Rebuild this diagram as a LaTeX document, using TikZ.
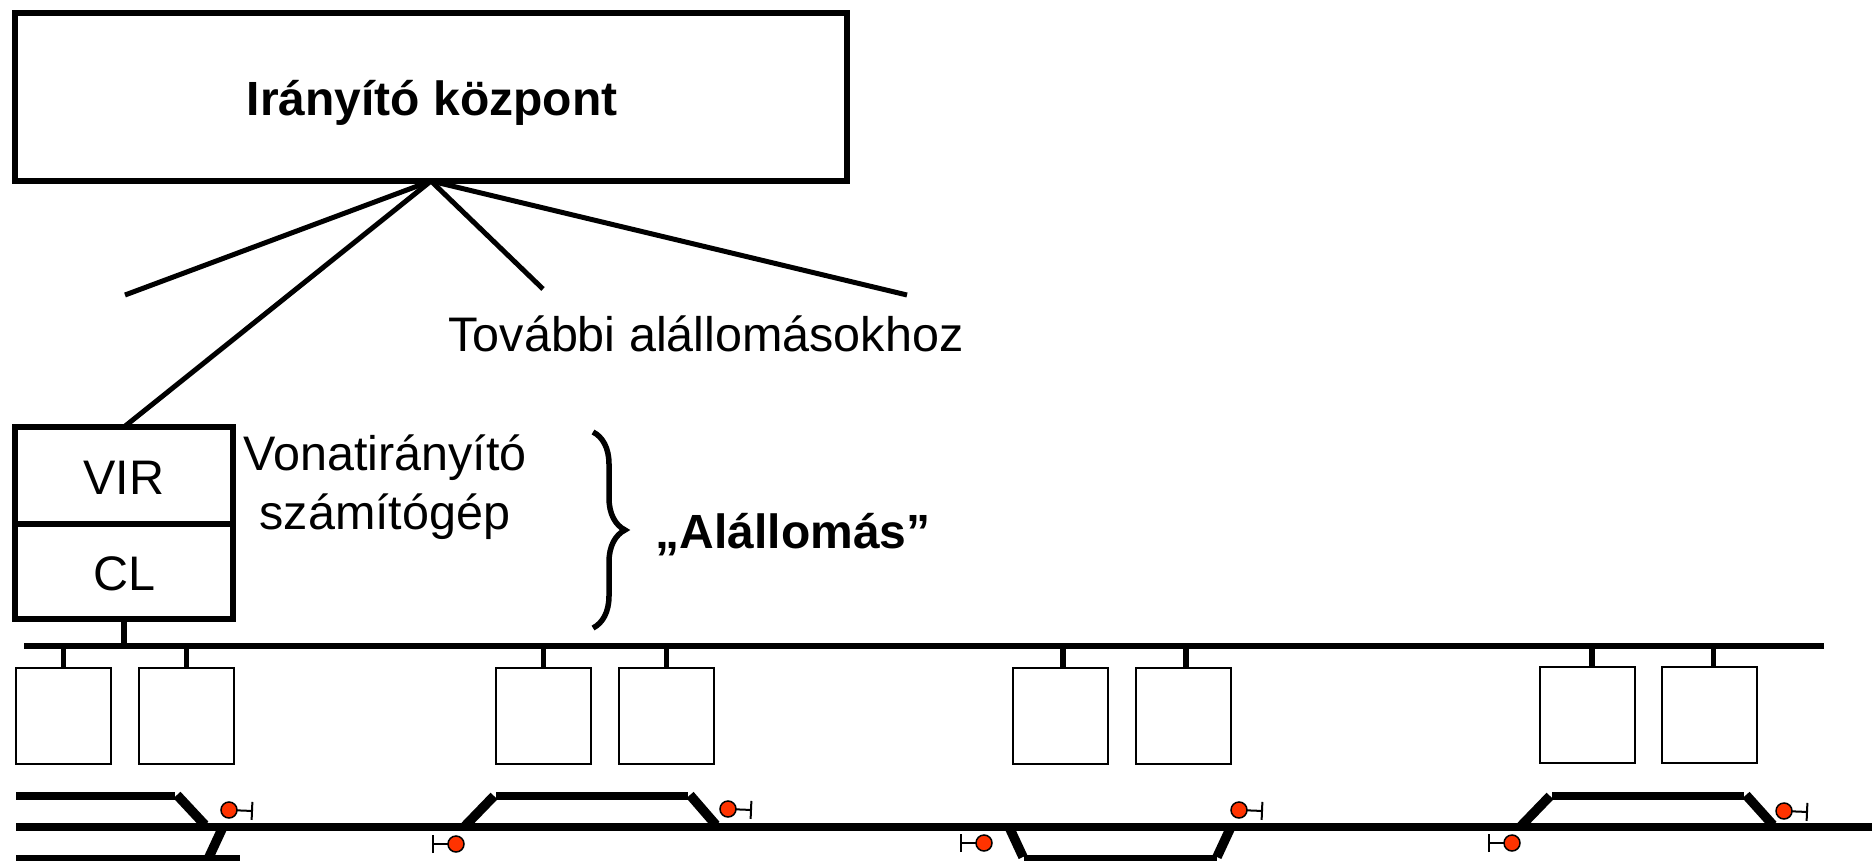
\documentclass[tikz,border=0pt]{standalone}
\usepackage{fontspec}
\setmainfont{Liberation Sans}
\usetikzlibrary{arrows.meta,decorations.pathreplacing}

\definecolor{signalred}{HTML}{FF3300}

\tikzset{
	bigtext/.style={font=\fontsize{48.5}{59}\selectfont, align=center, inner sep=0pt},
	boldtext/.style={font=\fontsize{48}{59}\selectfont\bfseries, inner sep=0pt},
	mainbox/.style={draw, line width=5.5pt, inner sep=0pt, outer sep=0pt},
	fieldbox/.style={draw, line width=2pt, minimum width=95pt, minimum height=96pt, inner sep=0pt, outer sep=0pt},
	wire/.style={line width=5pt},
	stem/.style={line width=5.5pt},
	track/.style={line width=8pt},
	switch/.style={line width=9.5pt},
	signal/.style={circle, draw, line width=1.5pt, fill=signalred, minimum size=16pt, inner sep=0pt, outer sep=0pt},
	signalpost/.style={line width=2pt, -{Bar[width=18pt,line width=2pt]}}
}

\begin{document}
\begin{tikzpicture}[x=1pt, y=-1pt]
	\clip (0, 0) rectangle (1872, 860);

	\node [mainbox, minimum width=832pt, minimum height=168pt] (center) at (431, 97) {};
	\node [boldtext] (centertext) at (432, 103) {Irányító központ};

	\coordinate (enda) at (125, 295);
	\coordinate (endb) at (543, 289);
	\coordinate (endc) at (907, 295);
	\node [bigtext] (further) at (706, 334) {További alállomásokhoz};

	\node [mainbox, minimum width=218pt, minimum height=97pt, bigtext] (vir) at (124, 475.5) {};
	\node [mainbox, minimum width=218pt, minimum height=95pt, bigtext] (cl) at (124, 571.5) {};
	\node [bigtext] (virtext) at (124, 478) {VIR};
	\node [bigtext] (cltext) at (124, 574) {CL};
	\node [bigtext] (computer) at (385, 487) {Vonatirányító\\számítógép};

	\draw [wire] (center.south) -- (enda);
	\draw [wire] (center.south) -- (vir.north);
	\draw [wire] (center.south) -- (endb);
	\draw [wire] (center.south) -- (endc);

	\draw [line width=5.5pt, decorate, decoration={brace, amplitude=32pt}] (593, 432) -- (593, 628);
	\node [boldtext] (station) at (793, 535) {„Alállomás”};

	\coordinate (busleft) at (24, 646);
	\coordinate (busright) at (1824, 646);
	\draw [stem] (busleft) -- (busright);
	\draw [stem] (cl.south) -- (cl.south |- busleft);

	\node [fieldbox] (fa) at (63.5, 716) {};
	\node [fieldbox] (fb) at (186.5, 715.5) {};
	\node [fieldbox] (fc) at (543.5, 715.5) {};
	\node [fieldbox] (fd) at (666.5, 715.5) {};
	\node [fieldbox] (fe) at (1060.5, 715.5) {};
	\node [fieldbox] (ff) at (1183, 715.5) {};
	\node [fieldbox] (fg) at (1587, 715) {};
	\node [fieldbox] (fh) at (1709.5, 715) {};

	\draw [stem] (fa.north) -- (fa.north |- busleft);
	\draw [stem] (fb.north) -- (fb.north |- busleft);
	\draw [stem] (fc.north) -- (fc.north |- busleft);
	\draw [stem] (fd.north) -- (fd.north |- busleft);
	\draw [stem] ([xshift=2.5pt]fe.north) -- ([xshift=2.5pt]fe.north |- busleft);
	\draw [stem] ([xshift=3pt]ff.north) -- ([xshift=3pt]ff.north |- busleft);
	\draw [stem] ([xshift=5pt]fg.north) -- ([xshift=5pt]fg.north |- busleft);
	\draw [stem] ([xshift=4pt]fh.north) -- ([xshift=4pt]fh.north |- busleft);

	\draw [track] (16, 827) -- (1872, 827);

	\draw [track] (16, 796) -- (175, 796);
	\draw [switch] (177, 795) -- (205, 825);
	\draw [track] (16, 859) -- (240, 859);
	\draw [switch] (222, 829) -- (209, 857);

	\draw [switch] (465, 826) -- (494, 796);
	\draw [track] (496, 796) -- (688, 796);
	\draw [switch] (690, 795) -- (716, 825);

	\draw [switch] (1010, 829) -- (1023, 857);
	\draw [track] (1024, 859) -- (1217, 859);
	\draw [switch] (1217, 857) -- (1230, 829);

	\draw [switch] (1521, 826) -- (1550, 796);
	\draw [track] (1552, 796) -- (1744, 796);
	\draw [switch] (1746, 795) -- (1773, 825);

	\node [signal] (sa) at (229, 810) {};
	\node [signal] (sb) at (456, 844) {};
	\node [signal] (sc) at (728, 809) {};
	\node [signal] (sd) at (984, 843) {};
	\node [signal] (se) at (1239, 810) {};
	\node [signal] (sf) at (1512, 843) {};
	\node [signal] (sg) at (1784, 811) {};

	\coordinate (pa) at (253, 811);
	\coordinate (pb) at (432, 844);
	\coordinate (pc) at (752, 810);
	\coordinate (pd) at (960, 843);
	\coordinate (pe) at (1263, 811);
	\coordinate (pf) at (1488, 843);
	\coordinate (pg) at (1808, 812);

	\draw [signalpost] (sa) -- (pa);
	\draw [signalpost] (sb) -- (pb);
	\draw [signalpost] (sc) -- (pc);
	\draw [signalpost] (sd) -- (pd);
	\draw [signalpost] (se) -- (pe);
	\draw [signalpost] (sf) -- (pf);
	\draw [signalpost] (sg) -- (pg);
\end{tikzpicture}
\end{document}
